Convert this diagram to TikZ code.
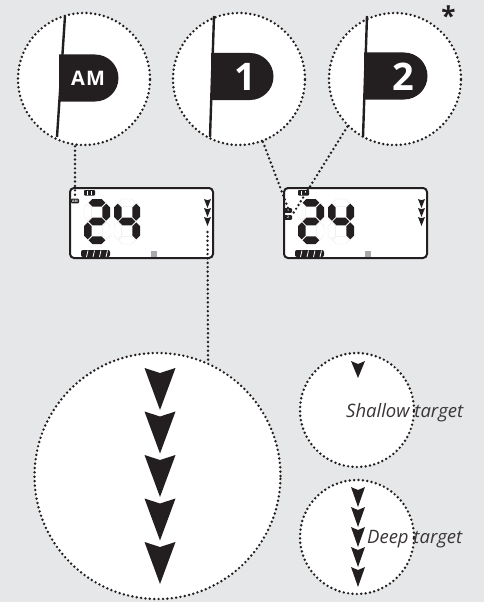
\documentclass[tikz,border=0pt]{standalone}
\usepackage{fontspec}
\setmainfont{Open Sans}
\usepackage{tikz}
\definecolor{dpink} {HTML}{231F20}
\definecolor{dpmist}{HTML}{E6E7E8}
\definecolor{dpgrey}{HTML}{A7A9AC}
\tikzset{
  dplens/.style={circle, draw=dpink, fill=white, line width=2.7pt,
                 dash pattern=on 0pt off 4.4pt, line cap=round, inner sep=0pt},
  dplead/.style={draw=dpink, line width=2.7pt, dash pattern=on 0pt off 4.4pt,
                 line cap=round},
  dplcd/.style={draw=dpink, fill=white, line width=2pt, rounded corners=4pt,
                minimum width=143pt, minimum height=70pt, inner sep=0pt},
  dpicon/.style={fill=dpink, text=white, rounded corners=1pt, inner sep=0pt,
                 minimum width=8pt, minimum height=4.6pt,
                 font=\bfseries\fontsize{3.4}{3.4}\selectfont},
  dptag/.style={text=white, inner sep=0pt},
  dplit/.style={fill=dpink},
  dpghost/.style={draw=black!9, line width=0.4pt},
  dplabel/.style={inner sep=0pt, text=dpink!90, font=\itshape\fontsize{18.5}{18.5}\selectfont},
}
% one bar of a seven-segment digit
\newcommand{\dpsegh}[4]{\path[#1] (#2+0.8,#4) -- (#2+4.6,#4-3.8) -- (#3-4.6,#4-3.8)
  -- (#3-0.8,#4) -- (#3-4.6,#4+3.8) -- (#2+4.6,#4+3.8) -- cycle;}
\newcommand{\dpsegv}[4]{\path[#1] (#2,#3+0.8) -- (#2+3.8,#3+4.6) -- (#2+3.8,#4-4.6)
  -- (#2,#4-0.8) -- (#2-3.8,#4-4.6) -- (#2-3.8,#3+4.6) -- cycle;}
\newcommand{\dpdigit}[9]{%
  \dpsegh{#3}{#1+3.8}{#1+22.2}{#2+3.8}
  \dpsegv{#4}{#1+22.2}{#2+3.8}{#2+22.5}
  \dpsegv{#5}{#1+22.2}{#2+22.5}{#2+41.2}
  \dpsegh{#6}{#1+3.8}{#1+22.2}{#2+41.2}
  \dpsegv{#7}{#1+3.8}{#2+22.5}{#2+41.2}
  \dpsegv{#8}{#1+3.8}{#2+3.8}{#2+22.5}
  \dpsegh{#9}{#1+3.8}{#1+22.2}{#2+22.5}}
% downward depth dart: centre x, top y, width, height, notch
\newcommand{\dpdart}[5]{\fill[dpink] (#1-#3/2,#2) -- (#1,#2+#5) -- (#1+#3/2,#2)
  -- (#1,#2+#4) -- cycle;}

\begin{document}
\begin{tikzpicture}[x=1pt,y=-1pt]
  \useasboundingbox (0,0) rectangle (484,602);
  \fill[dpmist] (0,0) rectangle (484,602);
  % zoomed mode flags
  \foreach \nm/\cx/\xt/\xb/\tl/\tr/\ty in
    {amlens/84/65/57/59/95/54.5, onelens/239/214/210/211/250/53,
     twolens/395/367/363/364/404/52.5}
    {\node[dplens, minimum size=132pt] (\nm) at (\cx,79) {};
     \fill[dpink] (\tl,\ty) -- (\tr,\ty) arc[start angle=-90, end angle=90, radius=23.5]
       -- (\tl,\ty+47) -- cycle;
     \draw[dpink, line width=2.4pt] (\xt,16) -- (\xb,137);}
  \node[dptag, font=\bfseries\fontsize{20}{20}\selectfont\addfontfeature{LetterSpace=6}]
    (amtag) at (88,78.5) {AM};
  \node[dptag, font=\bfseries\fontsize{38}{38}\selectfont] (onetag) at (245,77) {1};
  \node[dptag, font=\bfseries\fontsize{38}{38}\selectfont] (twotag) at (403,77) {2};
  \node[anchor=base, inner sep=0pt, text=dpink,
        font=\bfseries\fontsize{26}{26}\selectfont] (star) at (448.5,26) {*};
  % displays
  \foreach \n/\lx in {1/70, 2/284}
    {\node[dplcd] (lcd\n) at (\lx+71.5,223) {};
     \fill[dpink, rounded corners=0.8pt] (\lx+14,190) rectangle (\lx+25,195.5);
     \draw[white, line width=0.7pt] (\lx+17.5,191) -- (\lx+17.5,194.5)
       (\lx+21.5,191) -- (\lx+21.5,194.5);
     \dpdigit{\lx+14}{199}{dplit}{dplit}{dpghost}{dplit}{dplit}{dpghost}{dplit}
     \dpdigit{\lx+44}{199}{dpghost}{dplit}{dplit}{dpghost}{dpghost}{dplit}{dplit}
     \foreach \k in {0,1,2} {\dpdart{\lx+137.5}{199+9*\k}{7}{9}{1.2}}
     \fill[dpink, rounded corners=2pt] (\lx+11,257) -- (\lx+11,250) -- (\lx+40,250)
       -- (\lx+40,257) -- cycle;
     \foreach \s in {17,23.5,30,36.5}
       {\draw[white, line width=0.8pt] (\lx+\s+1,250.5) -- (\lx+\s-0.5,257);}
     \fill[dpgrey] (\lx+81,251) rectangle (\lx+86.5,257);
     \coordinate (depth\n) at (\lx+137.5,232);}
  \node[dpicon] (amtab)  at (75,201)    {AM};
  \node[dpicon] (onetab) at (288,210.5) {1};
  \node[dpicon] (twotab) at (288,217.5) {2};
  % zoomed depth scale
  \node[dplens, minimum size=246pt] (scalelens) at (157.5,476) {};
  \foreach \k in {0,...,4} {\dpdart{160}{368+43.5*\k}{31}{42}{5}}
  \node[dplens, minimum size=114pt] (shallowlens) at (357,410) {};
  \dpdart{358}{361}{14}{17}{3}
  \node[dplens, minimum size=114pt] (deeplens) at (357,537) {};
  \foreach \k in {0,...,4} {\dpdart{358}{487+20*\k}{14}{20}{3}}
  \node[dplabel, anchor=base west] (shallowtxt) at (346,417) {Shallow target};
  \node[dplabel, anchor=base west] (deeptxt)    at (367,543) {Deep target};
  % leaders
  \draw[dplead] (amtab.north |- amlens.south) -- (amtab.north);
  \draw[dplead] (onelens) -- (onetab.north);
  \draw[dplead] (twolens.225) -- (twotab.north east);
  \draw[dplead] (depth1) -- (scalelens.66);
\end{tikzpicture}
\end{document}
